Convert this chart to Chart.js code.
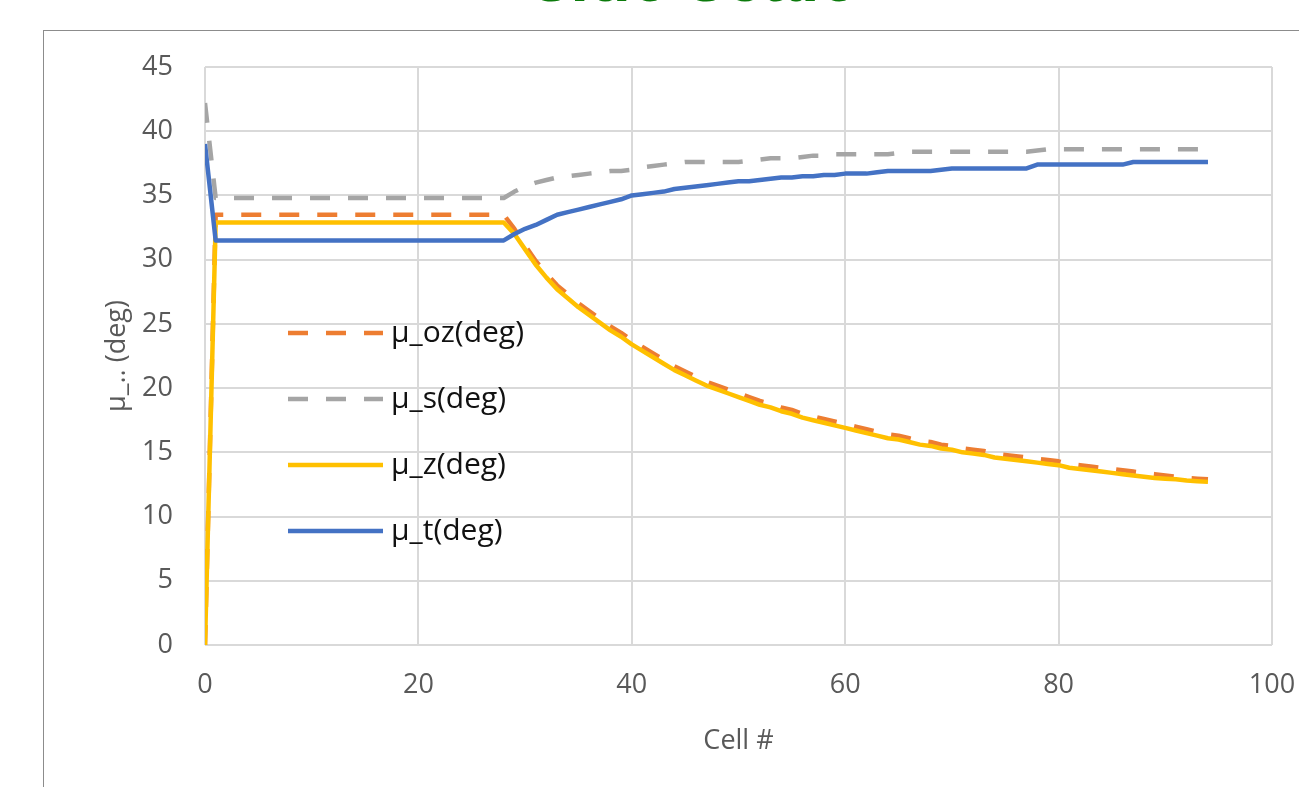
<!DOCTYPE html>
<html>
<head>
<meta charset="utf-8">
<title>side scale</title>
<script src="https://cdn.jsdelivr.net/npm/chart.js@4.4.1/dist/chart.umd.min.js"></script>
<style>
  html, body { margin: 0; padding: 0; background: #fff; overflow: hidden; }
  body { width: 1299px; height: 787px; position: relative; }
  #pageTitle {
    position: absolute; left: 0; width: 1390px; top: -57px; text-align: center;
    font: bold 68px "Liberation Sans", Arial, sans-serif; line-height: 1; color: #0b7a0b;
  }
  #frame {
    position: absolute; left: 43px; top: 30px; width: 1300px; height: 800px;
    border: 1px solid #8c8c8c; background: #fff;
  }
  #chartWrap { position: absolute; left: 0; top: 0; width: 1255px; height: 756px; }
</style>
</head>
<body>
<div id="pageTitle">side scale</div>
<div id="frame">
  <div id="chartWrap"><canvas id="muChart" width="1255" height="756"></canvas></div>
</div>
<script>
// cell numbers along the x axis
const cells = [
  0, 1, 2, 3, 4, 5, 6, 7, 8, 9,
  10, 11, 12, 13, 14, 15, 16, 17, 18, 19,
  20, 21, 22, 23, 24, 25, 26, 27, 28, 29,
  30, 31, 32, 33, 34, 35, 36, 37, 38, 39,
  40, 41, 42, 43, 44, 45, 46, 47, 48, 49,
  50, 51, 52, 53, 54, 55, 56, 57, 58, 59,
  60, 61, 62, 63, 64, 65, 66, 67, 68, 69,
  70, 71, 72, 73, 74, 75, 76, 77, 78, 79,
  80, 81, 82, 83, 84, 85, 86, 87, 88, 89,
  90, 91, 92, 93, 94
];

// μ_oz(deg)
const muOz = [
  0, 33.5, 33.5, 33.5, 33.5, 33.5, 33.5, 33.5, 33.5, 33.5,
  33.5, 33.5, 33.5, 33.5, 33.5, 33.5, 33.5, 33.5, 33.5, 33.5,
  33.5, 33.5, 33.5, 33.5, 33.5, 33.5, 33.5, 33.5, 33.5, 32.4,
  31.1, 29.9, 28.9, 28.0, 27.3, 26.6, 26.0, 25.4, 24.8, 24.3,
  23.7, 23.2, 22.7, 22.2, 21.7, 21.3, 20.9, 20.5, 20.2, 19.9,
  19.6, 19.3, 19.0, 18.8, 18.5, 18.3, 18.0, 17.8, 17.6, 17.4,
  17.2, 17.0, 16.8, 16.6, 16.4, 16.3, 16.1, 15.9, 15.8, 15.6,
  15.5, 15.3, 15.2, 15.1, 14.9, 14.8, 14.7, 14.6, 14.5, 14.4,
  14.3, 14.1, 14.0, 13.9, 13.8, 13.7, 13.6, 13.5, 13.4, 13.3,
  13.2, 13.1, 13.0, 12.95, 12.9
];

// μ_s(deg)
const muS = [
  42.2, 34.8, 34.8, 34.8, 34.8, 34.8, 34.8, 34.8, 34.8, 34.8,
  34.8, 34.8, 34.8, 34.8, 34.8, 34.8, 34.8, 34.8, 34.8, 34.8,
  34.8, 34.8, 34.8, 34.8, 34.8, 34.8, 34.8, 34.8, 34.8, 35.3,
  35.7, 36.0, 36.2, 36.4, 36.5, 36.6, 36.7, 36.8, 36.9, 36.9,
  37.0, 37.2, 37.3, 37.4, 37.5, 37.6, 37.6, 37.6, 37.6, 37.6,
  37.6, 37.7, 37.8, 37.9, 37.9, 37.9, 38.0, 38.1, 38.1, 38.2,
  38.2, 38.2, 38.2, 38.2, 38.2, 38.3, 38.4, 38.4, 38.4, 38.4,
  38.4, 38.4, 38.4, 38.4, 38.4, 38.4, 38.4, 38.4, 38.5, 38.6,
  38.6, 38.6, 38.6, 38.6, 38.6, 38.6, 38.6, 38.6, 38.6, 38.6,
  38.6, 38.6, 38.6, 38.6, 38.6
];

// μ_z(deg)
const muZ = [
  0, 32.9, 32.9, 32.9, 32.9, 32.9, 32.9, 32.9, 32.9, 32.9,
  32.9, 32.9, 32.9, 32.9, 32.9, 32.9, 32.9, 32.9, 32.9, 32.9,
  32.9, 32.9, 32.9, 32.9, 32.9, 32.9, 32.9, 32.9, 32.9, 32.0,
  30.8, 29.6, 28.6, 27.7, 27.0, 26.3, 25.7, 25.1, 24.5, 24.0,
  23.4, 22.9, 22.4, 21.9, 21.4, 21.0, 20.6, 20.2, 19.9, 19.6,
  19.3, 19.0, 18.7, 18.5, 18.2, 18.0, 17.7, 17.5, 17.3, 17.1,
  16.9, 16.7, 16.5, 16.3, 16.1, 16.0, 15.8, 15.6, 15.5, 15.3,
  15.2, 15.0, 14.9, 14.8, 14.6, 14.5, 14.4, 14.3, 14.2, 14.1,
  14.0, 13.8, 13.7, 13.6, 13.5, 13.4, 13.3, 13.2, 13.1, 13.0,
  12.95, 12.9, 12.8, 12.75, 12.7
];

// μ_t(deg)
const muT = [
  39.0, 31.5, 31.5, 31.5, 31.5, 31.5, 31.5, 31.5, 31.5, 31.5,
  31.5, 31.5, 31.5, 31.5, 31.5, 31.5, 31.5, 31.5, 31.5, 31.5,
  31.5, 31.5, 31.5, 31.5, 31.5, 31.5, 31.5, 31.5, 31.5, 32.0,
  32.4, 32.7, 33.1, 33.5, 33.7, 33.9, 34.1, 34.3, 34.5, 34.7,
  35.0, 35.1, 35.2, 35.3, 35.5, 35.6, 35.7, 35.8, 35.9, 36.0,
  36.1, 36.1, 36.2, 36.3, 36.4, 36.4, 36.5, 36.5, 36.6, 36.6,
  36.7, 36.7, 36.7, 36.8, 36.9, 36.9, 36.9, 36.9, 36.9, 37.0,
  37.1, 37.1, 37.1, 37.1, 37.1, 37.1, 37.1, 37.1, 37.4, 37.4,
  37.4, 37.4, 37.4, 37.4, 37.4, 37.4, 37.4, 37.6, 37.6, 37.6,
  37.6, 37.6, 37.6, 37.6, 37.6
];

const seriesLabels = ['μ_oz(deg)', 'μ_s(deg)', 'μ_z(deg)', 'μ_t(deg)'];
const xTicks = [0, 20, 40, 60, 80, 100];
const yTicks = [0, 5, 10, 15, 20, 25, 30, 35, 40, 45];

const toPoints = (vals) => vals.map((v, i) => ({ x: cells[i], y: v }));

// legend drawn inside the plot, like the Excel one
const innerLegend = {
    id: 'innerLegend',
    afterDraw(chart) {
        const { ctx, chartArea } = chart;
        const x0 = chartArea.left + 83;
        const y0 = chartArea.top + 266;
        chart.data.datasets.forEach((ds, i) => {
            const y = y0 + i * 66;
            ctx.save();
            ctx.strokeStyle = ds.borderColor;
            ctx.lineWidth = ds.borderWidth;
            ctx.setLineDash(ds.borderDash || []);
            ctx.beginPath();
            ctx.moveTo(x0, y);
            ctx.lineTo(x0 + 95, y);
            ctx.stroke();
            ctx.setLineDash([]);
            ctx.fillStyle = '#111';
            ctx.font = '30px "Open Sans"';
            ctx.textBaseline = 'middle';
            ctx.fillText(ds.label, x0 + 103, y);
            ctx.restore();
        });
    }
};

const tickFont = { family: 'Open Sans', size: 27 };

const ctx = document.getElementById('muChart').getContext('2d');
new Chart(ctx, {
    type: 'line',
    data: {
        datasets: [
            { label: seriesLabels[0], data: toPoints(muOz), borderColor: '#ED7D31', borderWidth: 4.5, borderDash: [20, 18], order: 4 },
            { label: seriesLabels[1], data: toPoints(muS), borderColor: '#A5A5A5', borderWidth: 4.5, borderDash: [20, 18], order: 3 },
            { label: seriesLabels[2], data: toPoints(muZ), borderColor: '#FFC000', borderWidth: 4.5, order: 2 },
            { label: seriesLabels[3], data: toPoints(muT), borderColor: '#4472C4', borderWidth: 4.5, order: 1 }
        ]
    },
    options: {
        responsive: false,
        animation: false,
        layout: { padding: { left: 0, top: 36, right: 27, bottom: 0 } },
        elements: {
            point: { radius: 0 },
            line: { tension: 0, borderCapStyle: 'butt', borderJoinStyle: 'round' }
        },
        plugins: {
            legend: { display: false },
            tooltip: { enabled: false }
        },
        scales: {
            x: {
                type: 'linear',
                min: 0,
                max: 100,
                afterBuildTicks: (scale) => { scale.ticks = xTicks.map(v => ({ value: v })); },
                afterFit: (scale) => { scale.height = 142; scale.paddingLeft = 0; scale.paddingRight = 0; },
                grid: { color: '#D9D9D9', lineWidth: 2, drawTicks: false },
                border: { display: false },
                ticks: { color: '#595959', font: tickFont, padding: 24, maxRotation: 0 },
                title: { display: true, text: 'Cell #', color: '#595959', font: tickFont, padding: { top: 0, bottom: 29 } }
            },
            y: {
                min: 0,
                max: 45,
                afterBuildTicks: (scale) => { scale.ticks = yTicks.map(v => ({ value: v })); },
                afterFit: (scale) => { scale.width = 161; scale.paddingTop = 0; scale.paddingBottom = 0; },
                grid: { color: '#D9D9D9', lineWidth: 2, drawTicks: false },
                border: { display: false },
                ticks: { color: '#595959', font: tickFont, padding: 32 },
                title: { display: true, text: 'μ_.. (deg)', color: '#595959', font: tickFont, padding: { top: 57, bottom: 0 } }
            }
        }
    },
    plugins: [innerLegend]
});
</script>
</body>
</html>
